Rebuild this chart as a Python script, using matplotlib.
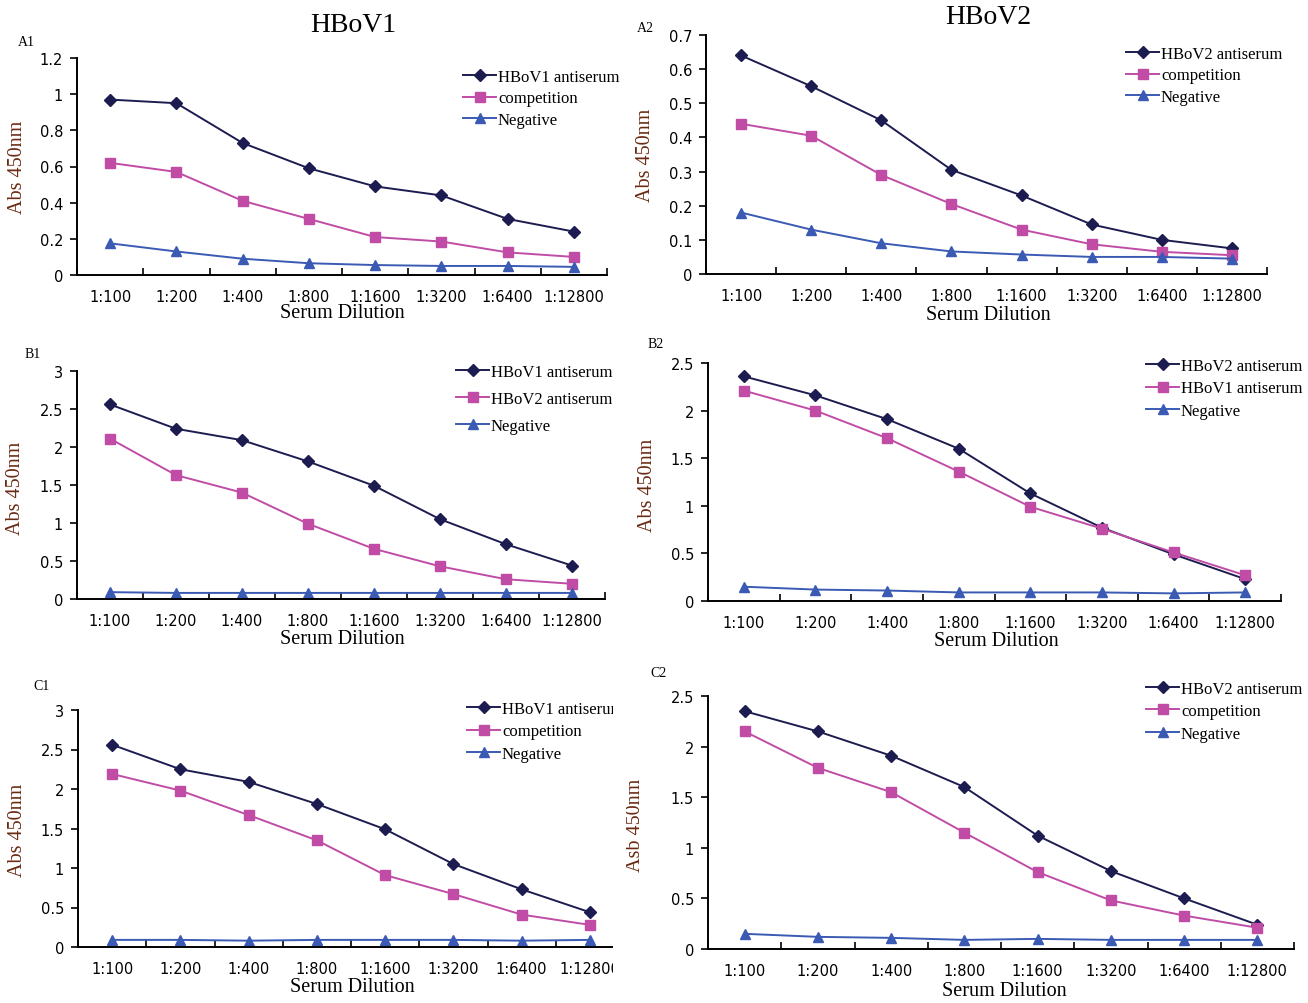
import matplotlib
matplotlib.use("Agg")
import matplotlib.pyplot as plt
from matplotlib.patches import Rectangle

W, H = 1308, 1004

dilutions = ["1:100", "1:200", "1:400", "1:800", "1:1600", "1:3200", "1:6400", "1:12800"]

# A1 - HBoV1
a1_anti = [0.97, 0.95, 0.73, 0.59, 0.49, 0.44, 0.31, 0.24]
a1_comp = [0.62, 0.57, 0.41, 0.31, 0.21, 0.185, 0.125, 0.10]
a1_neg = [0.175, 0.13, 0.09, 0.065, 0.055, 0.05, 0.05, 0.045]
# A2 - HBoV2
a2_anti = [0.64, 0.55, 0.45, 0.305, 0.23, 0.145, 0.10, 0.075]
a2_comp = [0.44, 0.405, 0.29, 0.205, 0.13, 0.087, 0.065, 0.055]
a2_neg = [0.18, 0.13, 0.09, 0.066, 0.057, 0.05, 0.05, 0.045]
# B1
b1_v1 = [2.56, 2.24, 2.09, 1.81, 1.49, 1.05, 0.72, 0.44]
b1_v2 = [2.11, 1.63, 1.40, 0.99, 0.66, 0.43, 0.26, 0.20]
b1_neg = [0.09, 0.08, 0.08, 0.08, 0.08, 0.08, 0.08, 0.08]
# B2
b2_v2 = [2.36, 2.16, 1.91, 1.60, 1.13, 0.77, 0.49, 0.23]
b2_v1 = [2.21, 2.00, 1.71, 1.36, 0.99, 0.76, 0.51, 0.27]
b2_neg = [0.15, 0.12, 0.11, 0.09, 0.09, 0.09, 0.08, 0.09]
# C1
c1_anti = [2.56, 2.25, 2.09, 1.81, 1.49, 1.05, 0.73, 0.44]
c1_comp = [2.19, 1.98, 1.67, 1.35, 0.91, 0.67, 0.41, 0.28]
c1_neg = [0.09, 0.09, 0.08, 0.09, 0.09, 0.09, 0.08, 0.09]
# C2
c2_anti = [2.35, 2.15, 1.91, 1.60, 1.12, 0.77, 0.50, 0.24]
c2_comp = [2.15, 1.79, 1.55, 1.15, 0.76, 0.48, 0.33, 0.21]
c2_neg = [0.15, 0.12, 0.11, 0.09, 0.10, 0.09, 0.09, 0.09]

navy = "#1c1c50"
pink = "#c04ca6"
blue = "#3a5ab4"
brown = "#6a2a12"
serif = "Liberation Serif"

fig = plt.figure(figsize=(W / 100, H / 100), dpi=100)

# panel: name, series, labels, ymax, ystep, axes box (left, right, top, bottom px),
# label positions, legend (x, top), legend row gap, ylabel text
panels = [
    ("A1", [a1_anti, a1_comp, a1_neg], ["HBoV1 antiserum", "competition", "Negative"],
     1.2, 0.2, (77, 607, 59, 276), (18, 167), (342, 314), (463, 70), 0.32, "Abs 450nm", (18, 42)),
    ("A2", [a2_anti, a2_comp, a2_neg], ["HBoV2 antiserum", "competition", "Negative"],
     0.7, 0.1, (706, 1267, 36, 275), (646, 155), (988, 315), (1126, 47), 0.32, "Abs 450nm", (637, 28)),
    ("B1", [b1_v1, b1_v2, b1_neg], ["HBoV1 antiserum", "HBoV2 antiserum", "Negative"],
     3.0, 0.5, (77, 605, 372, 600), (16, 488), (342, 639), (456, 365), 0.66, "Abs 450nm", (25, 355)),
    ("B2", [b2_v2, b2_v1, b2_neg], ["HBoV2 antiserum", "HBoV1 antiserum", "Negative"],
     2.5, 0.5, (708, 1281, 364, 602), (648, 485), (996, 642), (1146, 359), 0.38, "Abs 450nm", (648, 345)),
    ("C1", [c1_anti, c1_comp, c1_neg], ["HBoV1 antiserum", "competition", "Negative"],
     3.0, 0.5, (78, 624, 711, 948), (18, 830), (352, 987), (467, 702), 0.38, "Abs 450nm", (33, 687)),
    ("C2", [c2_anti, c2_comp, c2_neg], ["HBoV2 antiserum", "competition", "Negative"],
     2.5, 0.5, (708, 1294, 697, 950), (636, 825), (1004, 992), (1146, 682), 0.38, "Asb 450nm", (650, 674)),
]

styles = [(navy, "D", 6.3), (pink, "s", 7.2), (blue, "^", 7.5)]

for (name, series, labels, ymax, ystep, box, ylab_pos, xlab_pos, leg_pos,
     leg_gap, ylab, tag_pos) in panels:
    left, right, top, bottom = box
    ax = fig.add_axes([left / W, 1 - bottom / H, (right - left) / W, (bottom - top) / H])
    x = list(range(len(dilutions)))
    for vals, lab, (col, mk, ms) in zip(series, labels, styles):
        ax.plot(x, vals, color=col, marker=mk, markersize=ms, linewidth=1.4,
                label=lab, clip_on=False)
    ax.set_xlim(-0.5, len(dilutions) - 0.5)
    ax.set_ylim(0, ymax)
    n = int(round(ymax / ystep))
    yt = [round(i * ystep, 2) for i in range(n + 1)]
    ax.set_yticks(yt)
    ax.set_yticklabels([f"{v:g}" for v in yt])
    ax.set_xticks(x)
    ax.set_xticklabels(dilutions)
    ax.set_xticks([i - 0.5 for i in range(len(dilutions) + 1)], minor=True)
    for s in ["top", "right"]:
        ax.spines[s].set_visible(False)
    for s in ["left", "bottom"]:
        ax.spines[s].set_linewidth(1.4)
    ax.tick_params(axis="x", which="major", length=0, pad=10, labelsize=10.5)
    ax.tick_params(axis="x", which="minor", direction="in", length=5, width=1.2)
    ax.tick_params(axis="y", direction="out", length=5, width=1.2, pad=5, labelsize=10.5)

    # axis labels at their picture positions
    ax.set_xlabel("Serum Dilution", fontsize=14.5, family=serif)
    ax.xaxis.set_label_coords((xlab_pos[0] - left) / (right - left),
                              (bottom - xlab_pos[1]) / (bottom - top))
    ax.xaxis.label.set_va("center")
    ax.set_ylabel(ylab, fontsize=14.5, family=serif, color=brown)
    ax.yaxis.set_label_coords((ylab_pos[0] - left) / (right - left),
                              (bottom - ylab_pos[1]) / (bottom - top))
    ax.yaxis.label.set_va("center")

    ax.legend(loc="upper left", bbox_to_anchor=(leg_pos[0] / W, 1 - leg_pos[1] / H),
              bbox_transform=fig.transFigure, frameon=False, borderpad=0,
              borderaxespad=0, handlelength=2.0, handletextpad=0.1,
              labelspacing=leg_gap, prop={"family": serif, "size": 12})

    fig.text(tag_pos[0] / W, 1 - tag_pos[1] / H, name, family=serif, fontsize=10,
             ha="left", va="center")

fig.text(353 / W, 1 - 25 / H, "HBoV1", family=serif, fontsize=20, ha="center", va="center")
fig.text(988 / W, 1 - 17 / H, "HBoV2", family=serif, fontsize=20, ha="center", va="center")

# the C1 panel is cut off at its right edge in the source figure
fig.patches.append(Rectangle((613 / W, 0), 13 / W, 320 / H, transform=fig.transFigure,
                             facecolor="white", edgecolor="none", zorder=10))

fig.savefig("out.png", dpi=100)
